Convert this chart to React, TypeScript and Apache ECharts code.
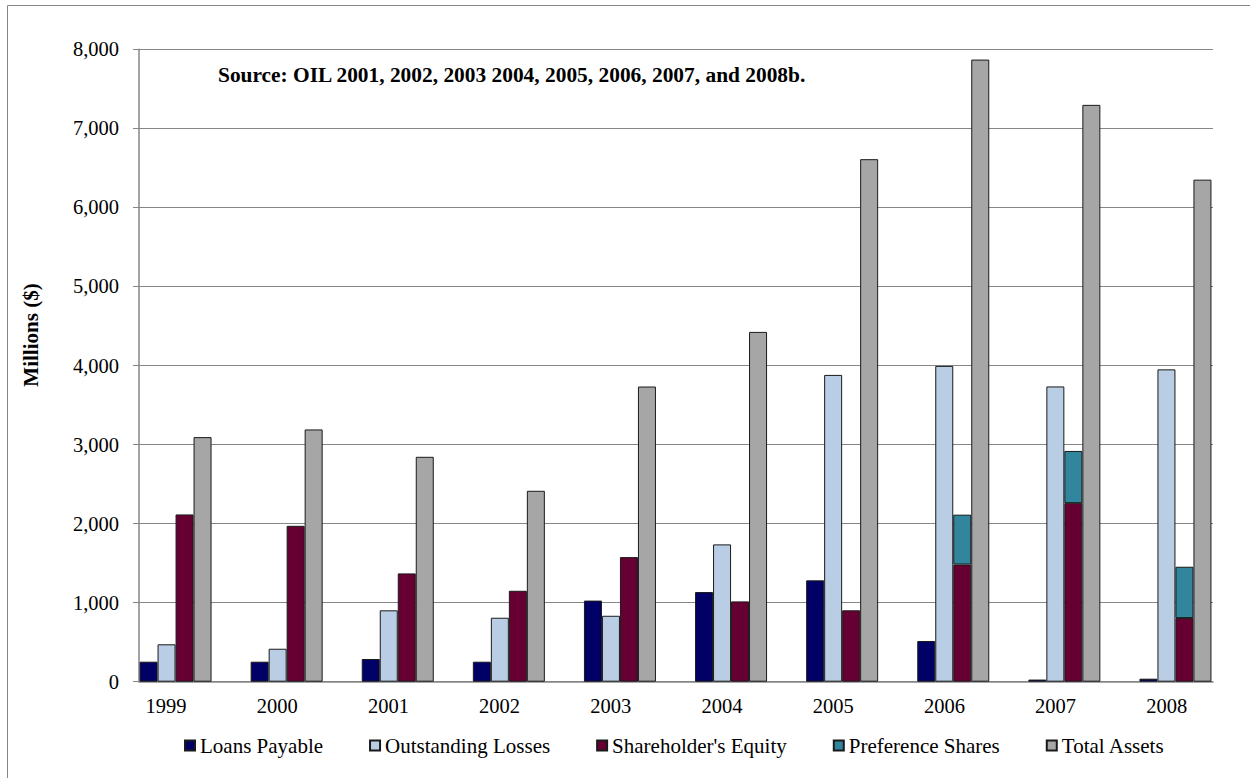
import React, { useEffect, useRef } from "react";
import * as echarts from "echarts";

// Balance-sheet items, millions of dollars
const years = ["1999", "2000", "2001", "2002", "2003", "2004", "2005", "2006", "2007", "2008"];
const loansPayable = [253, 253, 287, 253, 1026, 1134, 1282, 515, 27, 38];
const outstandingLosses = [473, 417, 903, 809, 834, 1737, 3881, 3995, 3735, 3951];
const shareholdersEquity = [2116, 1972, 1370, 1150, 1576, 1016, 903, 1482, 2259, 805];
const preferenceShares = [null, null, null, null, null, null, null, 631, 660, 649];
const totalAssets = [3094, 3191, 2845, 2415, 3734, 4425, 6610, 7870, 7297, 6351];
const yTicks = { min: 0, max: 8000, interval: 1000 };

const SERIF = "Liberation Serif";
const GRID_GRAY = "#868686";
const EDGE = "#1a1a1a";

export default function App() {
  const ref = useRef<HTMLDivElement>(null);

  useEffect(() => {
    if (!ref.current) return;
    const chart = echarts.init(ref.current, null, { renderer: "svg" });

    const plotTop = 49.3;
    const plotHeight = 632.4;

    const barSeries = (name: string, data: (number | null)[], color: string, stack?: string) => ({
      name,
      type: "bar",
      xAxisIndex: 1,
      yAxisIndex: 1,
      data,
      stack,
      barWidth: 18,
      barGap: "0%",
      itemStyle: { color, borderColor: EDGE, borderWidth: 1 },
    });

    chart.setOption({
      animation: false,
      backgroundColor: "#ffffff",
      textStyle: { fontFamily: SERIF },
      grid: [
        // frame: axis lines, ticks and gridlines
        { left: 139, top: plotTop, width: 1074, height: plotHeight },
        // bar clusters
        { left: 120, top: plotTop, width: 1111, height: plotHeight },
        // year labels
        { left: 110.4, top: plotTop, width: 1112, height: plotHeight },
      ],
      xAxis: [
        {
          type: "category",
          gridIndex: 0,
          data: years,
          axisLine: { show: true, lineStyle: { color: GRID_GRAY, width: 1.5 } },
          axisTick: { show: false },
          axisLabel: { show: false },
        },
        { type: "category", gridIndex: 1, data: years, show: false },
        {
          type: "category",
          gridIndex: 2,
          data: years,
          axisLine: { show: false },
          axisTick: { show: false },
          axisLabel: {
            show: true,
            margin: 14,
            color: "#000",
            fontFamily: SERIF,
            fontSize: 20.5,
          },
        },
      ],
      yAxis: [
        {
          type: "value",
          gridIndex: 0,
          min: yTicks.min,
          max: yTicks.max,
          interval: yTicks.interval,
          axisLine: { show: true, lineStyle: { color: GRID_GRAY, width: 1.5 } },
          axisTick: { show: true, length: 6, lineStyle: { color: GRID_GRAY } },
          splitLine: { show: true, lineStyle: { color: GRID_GRAY, width: 1 } },
          axisLabel: {
            margin: 20,
            color: "#000",
            fontFamily: SERIF,
            fontSize: 20.5,
            formatter: (v: number) => v.toLocaleString("en-US"),
          },
        },
        { type: "value", gridIndex: 1, min: yTicks.min, max: yTicks.max, show: false },
        { type: "value", gridIndex: 2, min: yTicks.min, max: yTicks.max, show: false },
      ],
      legend: {
        left: 184,
        top: 735,
        padding: 0,
        icon: "rect",
        itemWidth: 10,
        itemHeight: 10,
        itemGap: 46,
        textStyle: { fontFamily: SERIF, fontSize: 21, color: "#000" },
        data: [
          "Loans Payable",
          "Outstanding Losses",
          "Shareholder's Equity",
          "Preference Shares",
          "Total Assets",
        ].map((name) => ({
          name,
          textStyle: { fontFamily: SERIF, fontSize: 21, color: "#000" },
        })),
      },
      graphic: [
        {
          type: "rect",
          silent: true,
          shape: { x: 7.5, y: 5.5, width: 1300, height: 800 },
          style: { fill: "none", stroke: GRID_GRAY, lineWidth: 1 },
        },
        {
          type: "text",
          x: 218,
          y: 75,
          style: {
            text: "Source: OIL 2001, 2002, 2003 2004, 2005, 2006, 2007, and 2008b.",
            fontFamily: SERIF,
            fontSize: 21.4,
            fontWeight: "bold",
            fill: "#000",
            align: "left",
            verticalAlign: "middle",
          },
        },
        {
          type: "text",
          x: 31,
          y: 335,
          rotation: Math.PI / 2,
          style: {
            text: "Millions ($)",
            fontFamily: SERIF,
            fontSize: 21,
            fontWeight: "bold",
            fill: "#000",
            align: "center",
            verticalAlign: "middle",
          },
        },
      ],
      series: [
        barSeries("Loans Payable", loansPayable, "#000066"),
        barSeries("Outstanding Losses", outstandingLosses, "#B9CDE5"),
        barSeries("Shareholder's Equity", shareholdersEquity, "#660033", "equity"),
        barSeries("Preference Shares", preferenceShares, "#31859C", "equity"),
        barSeries("Total Assets", totalAssets, "#A6A6A6"),
      ],
    });

    return () => chart.dispose();
  }, []);

  return (
    <div
      ref={ref}
      style={{ position: "fixed", left: 0, top: 0, width: 1250, height: 778, background: "#fff" }}
    />
  );
}
